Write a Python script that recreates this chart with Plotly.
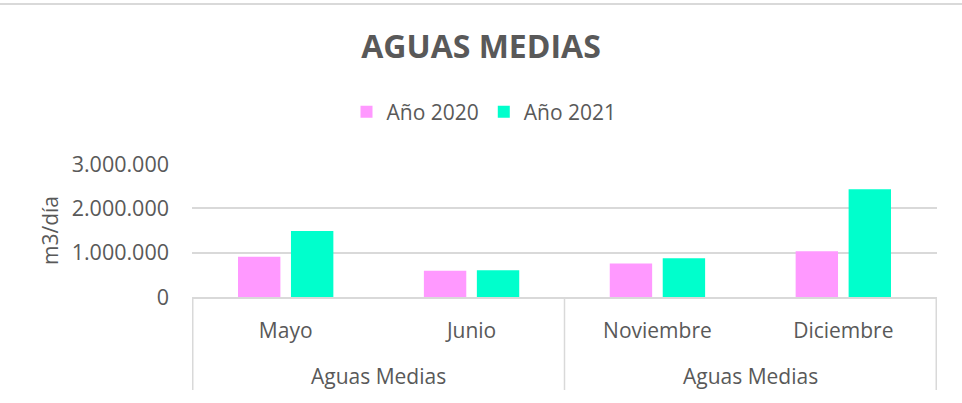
import plotly.graph_objects as go

# data
meses = ['Mayo', 'Junio', 'Noviembre', 'Diciembre']
grupos = ['Aguas Medias', 'Aguas Medias']
anio_2020 = [910000, 590000, 755000, 1030000]
anio_2021 = [1490000, 605000, 875000, 2430000]
y_ticks = [0, 1000000, 2000000, 3000000]

W, H = 962, 403
L, R, T, B = 192, 25, 164, 106
pw, ph = W - L - R, H - T - B

FONT = 'Open Sans'
GRIS = '#595959'
LINEA = '#d9d9d9'

fig = go.Figure()
fig.add_trace(go.Bar(x=meses, y=anio_2020, name='Año 2020',
                     marker=dict(color='#FF99FF', line=dict(width=0))))
fig.add_trace(go.Bar(x=meses, y=anio_2021, name='Año 2021',
                     marker=dict(color='#00FFCC', line=dict(width=0))))

fig.update_layout(
    width=W, height=H,
    margin=dict(l=L, r=R, t=T, b=B),
    paper_bgcolor='white', plot_bgcolor='white',
    font=dict(family=FONT, size=21, color=GRIS),
    separators=',.',
    barmode='group', bargap=0.43, bargroupgap=0.2,
    title=dict(text='<b>AGUAS MEDIAS</b>', font=dict(size=32, color=GRIS),
               x=0.5, xanchor='center', xref='container',
               y=1 - 47 / H, yanchor='middle', yref='container'),
    legend=dict(orientation='h', x=(484 - L) / pw, xanchor='center',
                y=1 + (T - 112) / ph, yanchor='middle',
                font=dict(size=21, color=GRIS), itemwidth=30),
    showlegend=True,
)
fig.update_xaxes(type='category', showgrid=False, showline=True,
                 linecolor=LINEA, linewidth=1.5, ticks='',
                 automargin=False, ticklabelstandoff=14,
                 tickfont=dict(size=21, color=GRIS))
fig.update_yaxes(range=[0, 3000000], tickvals=y_ticks, tickformat=',d',
                 showgrid=True, gridcolor=LINEA, gridwidth=1.5,
                 zeroline=False, showline=False, ticks='',
                 automargin=False, ticklabelstandoff=22,
                 tickfont=dict(size=21.5, color=GRIS),
                 title=dict(text='m3/día', font=dict(size=21, color=GRIS),
                            standoff=7))

# second category level: group labels and dividers
for i, g in enumerate(grupos):
    fig.add_annotation(x=2 * i + 0.5, xref='x', y=-(376 - (H - B)) / ph,
                       yref='paper', text=g, showarrow=False,
                       font=dict(size=21, color=GRIS), yanchor='middle')
for xd in [-0.5, 1.5, 3.5]:
    fig.add_shape(type='line', xref='x', yref='paper', x0=xd, x1=xd,
                  y0=0, y1=-(390 - (H - B)) / ph,
                  line=dict(color=LINEA, width=1.5))

# thin border line at the top of the chart area
fig.add_shape(type='line', xref='paper', yref='paper',
              x0=-L / pw, x1=(W - L) / pw,
              y0=1 + (T - 4) / ph, y1=1 + (T - 4) / ph,
              line=dict(color=LINEA, width=2))

fig.write_html('out.html', config={'displayModeBar': False},
               post_script="document.body.style.margin='0';")
